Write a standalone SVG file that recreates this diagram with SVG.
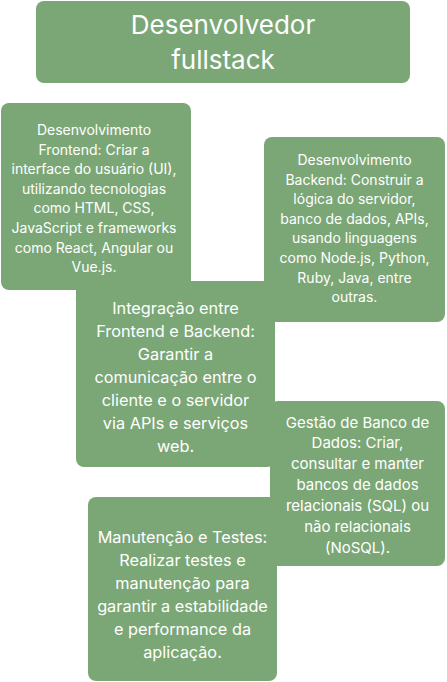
<svg xmlns="http://www.w3.org/2000/svg" width="447" height="682" viewBox="0 0 447 682">
<style>
.box{fill:#7ba776;}
text{fill:#ffffff;font-family:Inter,"Noto Sans","Liberation Sans",sans-serif;text-anchor:middle;}
.t{font-size:26px;}
.s{font-size:14px;}
.m{font-size:15px;}
.l{font-size:16.3px;}
</style>
<rect x="0" y="0" width="447" height="682" fill="#ffffff"/>
<g id="connectors"></g>
<g id="title">
<rect class="box" x="36" y="1" width="374" height="82" rx="8"/>
<text class="t" x="223" y="34">Desenvolvedor</text>
<text class="t" x="223" y="69">fullstack</text>
</g>
<g id="frontend">
<rect class="box" x="1" y="103" width="190" height="187" rx="8"/>
<text class="s" x="94" y="135">Desenvolvimento</text>
<text class="s" x="94" y="154.6">Frontend: Criar a</text>
<text class="s" x="94" y="174.2">interface do usuário (UI),</text>
<text class="s" x="94" y="193.8">utilizando tecnologias</text>
<text class="s" x="94" y="213.4">como HTML, CSS,</text>
<text class="s" x="94" y="233">JavaScript e frameworks</text>
<text class="s" x="94" y="252.6">como React, Angular ou</text>
<text class="s" x="94" y="272.2">Vue.js.</text>
</g>
<g id="backend">
<rect class="box" x="264" y="137" width="181" height="185" rx="8"/>
<text class="s" x="354.5" y="165">Desenvolvimento</text>
<text class="s" x="354.5" y="184.6">Backend: Construir a</text>
<text class="s" x="354.5" y="204.2">lógica do servidor,</text>
<text class="s" x="354.5" y="223.8">banco de dados, APIs,</text>
<text class="s" x="354.5" y="243.4">usando linguagens</text>
<text class="s" x="354.5" y="263">como Node.js, Python,</text>
<text class="s" x="354.5" y="282.6">Ruby, Java, entre</text>
<text class="s" x="354.5" y="302.2">outras.</text>
</g>
<g id="integracao">
<rect class="box" x="76" y="281" width="199" height="186" rx="8"/>
<text class="l" x="175.5" y="314">Integração entre</text>
<text class="l" x="175.5" y="337">Frontend e Backend:</text>
<text class="l" x="175.5" y="360">Garantir a</text>
<text class="l" x="175.5" y="383">comunicação entre o</text>
<text class="l" x="175.5" y="406">cliente e o servidor</text>
<text class="l" x="175.5" y="429">via APIs e serviços</text>
<text class="l" x="175.5" y="452">web.</text>
</g>
<g id="banco">
<rect class="box" x="270" y="401" width="175" height="165" rx="8"/>
<text class="m" x="357.5" y="427.5">Gestão de Banco de</text>
<text class="m" x="357.5" y="448.4">Dados: Criar,</text>
<text class="m" x="357.5" y="469.3">consultar e manter</text>
<text class="m" x="357.5" y="490.2">bancos de dados</text>
<text class="m" x="357.5" y="511.1">relacionais (SQL) ou</text>
<text class="m" x="357.5" y="532">não relacionais</text>
<text class="m" x="357.5" y="552.9">(NoSQL).</text>
</g>
<g id="manutencao">
<rect class="box" x="88" y="497" width="189" height="184" rx="8"/>
<text class="l" x="182.5" y="543">Manutenção e Testes:</text>
<text class="l" x="182.5" y="566">Realizar testes e</text>
<text class="l" x="182.5" y="589">manutenção para</text>
<text class="l" x="182.5" y="612">garantir a estabilidade</text>
<text class="l" x="182.5" y="635">e performance da</text>
<text class="l" x="182.5" y="658">aplicação.</text>
</g>
</svg>
